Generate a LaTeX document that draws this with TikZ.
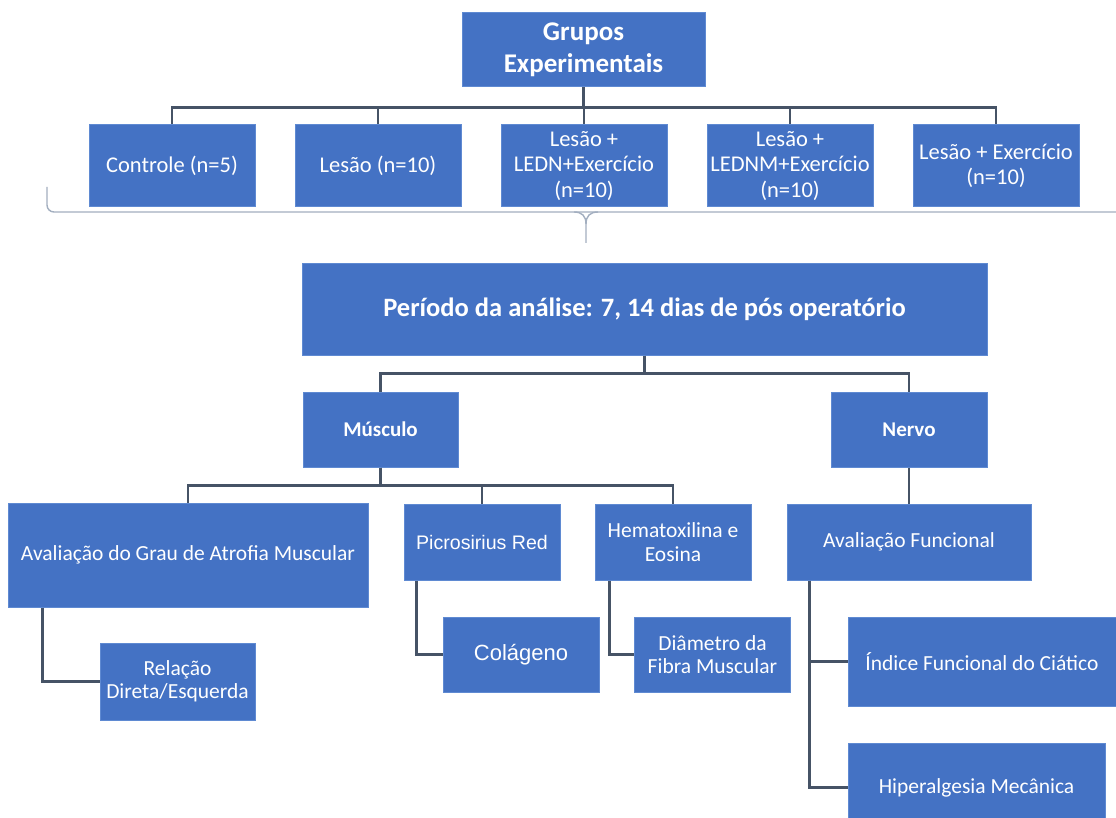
\documentclass[tikz,border=0pt]{standalone}
\usepackage{fontspec}
\setmainfont{Carlito}
\newfontfamily\arialfont{Liberation Sans}
\definecolor{cbox}{HTML}{4472C4}
\definecolor{cedge}{HTML}{5F8AD2}
\definecolor{cline}{HTML}{465366}
\definecolor{cbrace}{HTML}{A3AFC0}
\tikzset{
  every picture/.style={x=1pt, y=-1pt},
  box/.style={fill=cbox, draw=cedge, line width=1pt, text=white, align=center, inner sep=2pt,
    font=\fontsize{21.5}{23.5}\selectfont},
  group/.style={box, minimum width=166pt, minimum height=82pt, font=\fontsize{22.5}{25.5}\selectfont},
  head/.style={box, minimum width=155pt, minimum height=75pt, font=\bfseries\fontsize{21}{25}\selectfont},
  arial/.style={font=\arialfont\fontsize{#1}{#1}\selectfont},
  conn/.style={draw=cline, line width=2.6pt},
  brace/.style={draw=cbrace, line width=1.4pt},
}

\begin{document}
\begin{tikzpicture}
  \path[use as bounding box] (0,0) rectangle (1116,818);
  \fill[white] (0,0) rectangle (1116,818);
  \clip (0,0) rectangle (1116,818);
  \node[box, minimum width=243pt, minimum height=74pt, font=\bfseries\fontsize{27}{32}\selectfont]
    (grupos) at (583.5,50) {Grupos\\Experimentais};
  \foreach \n/\t/\x in {ctrl/{Controle (n=5)}/172, les/{Lesão (n=10)}/378,
                        ledn/{Lesão +\\LEDN+Exercício\\(n=10)}/584,
                        lednm/{Lesão +\\LEDNM+Exercício\\(n=10)}/790,
                        lesex/{Lesão + Exercício\\(n=10)}/996}
    \node[group] (\n) at (\x,166) {\t};
  \foreach \n in {ctrl, les, ledn, lednm, lesex} \draw[conn] (grupos.south) -- ++(0,20) -| (\n.north);
  % the brace under the groups
  \draw[brace, rounded corners=7pt] (47,187) -- (47,212) -- (1116,212);
  \draw[brace] (574,212) .. controls (582,212) and (586,216) .. (586,224) -- (586,243);
  \draw[brace] (598,212) .. controls (590,212) and (586,216) .. (586,224);
  \node[box, minimum width=685pt, minimum height=91pt, font=\bfseries\fontsize{26.5}{30}\selectfont]
    (periodo) at (644.5,309.5) {Período da análise: 7, 14 dias de pós operatório};
  \node[head] (musc) at (380.5,429.5) {Músculo};
  \node[head, minimum width=156pt] (nervo) at (909,429.5) {Nervo};
  \foreach \n in {musc, nervo} \draw[conn] (periodo.south) -- ++(0,18) -| (\n.north);
  \node[box, minimum width=360pt, minimum height=104pt] (atrofia) at (188,555) {Avaliação do Grau de Atrofia Muscular};
  \node[box, arial=19.6, minimum width=156pt, minimum height=76pt] (picro) at (482,542) {Picrosirius Red};
  \node[box, minimum width=156pt, minimum height=76pt] (hema) at (673,542) {Hematoxilina e\\Eosina};
  \node[box, minimum width=244pt, minimum height=76pt] (avfunc) at (909,542) {Avaliação Funcional};
  \foreach \n in {atrofia, picro, hema} \draw[conn] (musc.south) -- ++(0,18) -| (\n.north);
  \draw[conn] (nervo) -- (avfunc);
  \node[box, minimum width=155pt, minimum height=77pt] (relacao) at (177.5,681.5) {Relação\\Direta/Esquerda};
  \node[box, arial=22, minimum width=156pt, minimum height=75pt] (colageno) at (521,654.5) {Colágeno};
  \node[box, minimum width=156pt, minimum height=75pt] (diametro) at (712.5,654.5) {Diâmetro da\\Fibra Muscular};
  \node[box, minimum width=268pt, minimum height=89pt] (indice) at (982,661.5) {Índice Funcional do Ciático};
  \node[box, minimum width=257pt, minimum height=89pt] (hiper) at (976.5,787.5) {Hiperalgesia Mecânica};
  \draw[conn] (atrofia.south west) ++(35,0) |- (relacao.west);
  \draw[conn] (picro.south west) ++(13,0) |- (colageno.west);
  \draw[conn] (hema.south west) ++(15,0) |- (diametro.west);
  \foreach \n in {indice, hiper} \draw[conn] (avfunc.south west) ++(23,0) |- (\n.west);
\end{tikzpicture}
\end{document}
